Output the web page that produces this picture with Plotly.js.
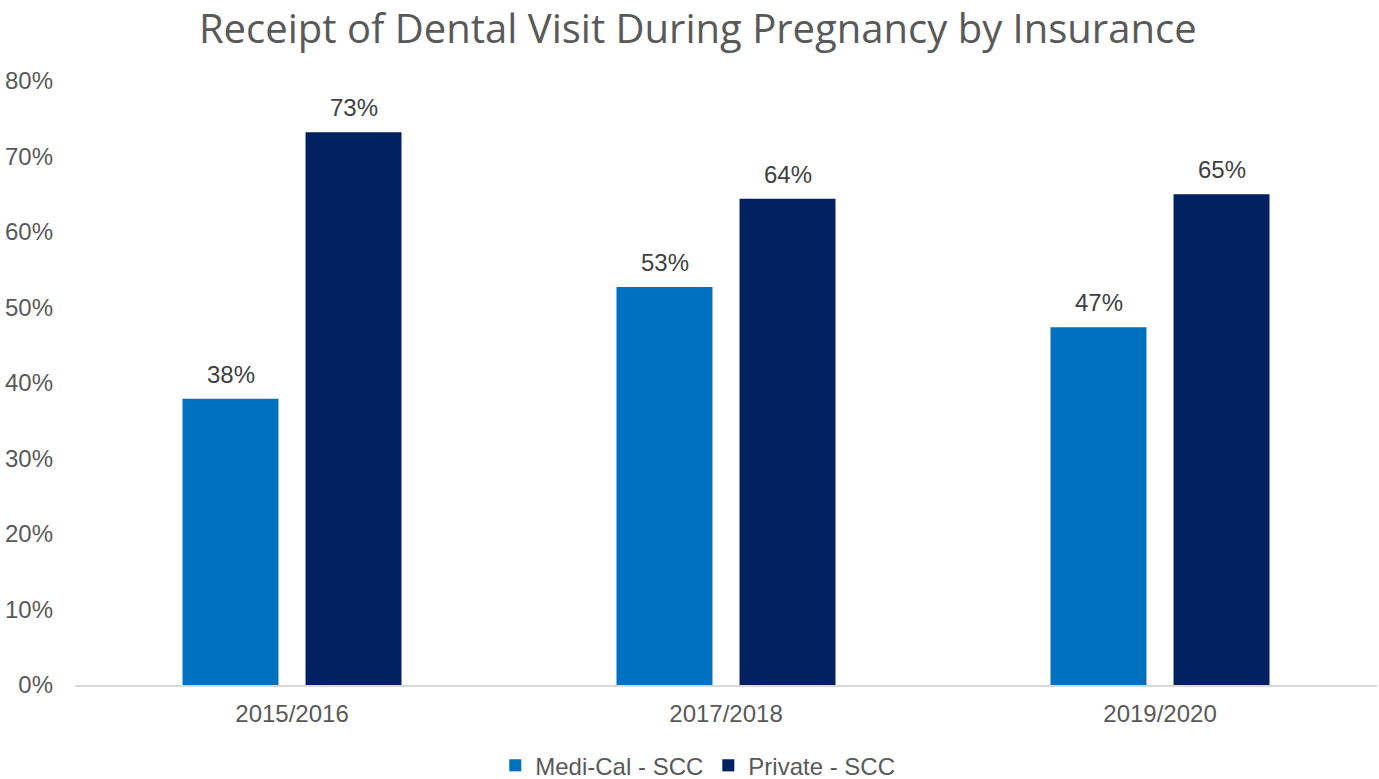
<!DOCTYPE html>
<html><head><meta charset="utf-8">
<script src="https://cdn.plot.ly/plotly-3.0.1.min.js"></script>
<style>html,body{margin:0;padding:0;background:#fff}#chart{width:1379px;height:779px}</style>
</head><body><div id="chart"></div>
<script>
const categories = ['2015/2016', '2017/2018', '2019/2020'];
const seriesNames = ['Medi-Cal - SCC', 'Private - SCC'];
const mediCal = [37.9, 52.7, 47.4];
const privateIns = [73.2, 64.4, 65.0];
const yTicks = [0, 10, 20, 30, 40, 50, 60, 70, 80];

const colors = ['#0070C0', '#002060'];
const baseFont = 'Liberation Sans, Arial, sans-serif';
const traces = [mediCal, privateIns].map((vals, i) => ({
  type: 'bar', name: seriesNames[i], x: categories, y: vals,
  marker: {color: colors[i]}, hoverinfo: 'skip'
}));

const annotations = [];
[mediCal, privateIns].forEach((vals, i) => {
  vals.forEach((v, j) => {
    annotations.push({
      x: categories[j], y: v, xref: 'x', yref: 'y',
      text: Math.round(v) + '%', showarrow: false,
      xshift: i === 0 ? -61.5 : 61.5, yshift: 9, yanchor: 'bottom',
      font: {family: baseFont, size: 24, color: '#404040'}
    });
  });
});

const layout = {
  width: 1379, height: 779,
  margin: {l: 75, r: 2, t: 81, b: 94},
  paper_bgcolor: '#fff', plot_bgcolor: '#fff',
  title: {text: 'Receipt of Dental Visit During Pregnancy by Insurance',
    xref: 'container', x: 0.506, xanchor: 'center', yref: 'container', y: 0.9625, yanchor: 'middle',
    font: {family: 'Open Sans, sans-serif', size: 40, color: '#595959', weight: 400}},
  barmode: 'group', bargap: 0.433, bargroupgap: 0.22,
  xaxis: {showgrid: false, showline: true, linecolor: '#d9d9d9', linewidth: 2, ticks: '',
    ticklabelstandoff: 6, automargin: false,
    tickfont: {family: baseFont, size: 24, color: '#595959'}},
  yaxis: {range: [0, 80], tickvals: yTicks, ticktext: yTicks.map(v => v + '%'),
    showgrid: false, zeroline: false, showline: false, ticks: '', ticklabelstandoff: 21, automargin: false,
    tickfont: {family: baseFont, size: 24, color: '#595959'}},
  legend: {orientation: 'h', xref: 'container', x: 0.506, xanchor: 'center',
    yref: 'container', y: 0.017, yanchor: 'middle',
    font: {family: baseFont, size: 24, color: '#595959'},
    itemwidth: 30, traceorder: 'normal'},
  annotations: annotations,
  showlegend: true
};
Plotly.newPlot('chart', traces, layout, {displayModeBar: false, staticPlot: true});
</script></body></html>
